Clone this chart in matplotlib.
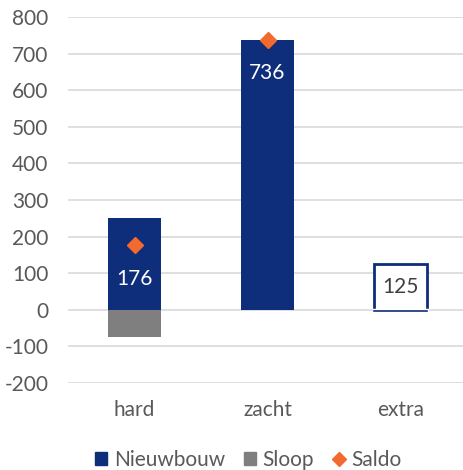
import matplotlib.pyplot as plt
from matplotlib.lines import Line2D
from matplotlib.patches import Patch

# --- data ---
categories = ['hard', 'zacht', 'extra']
nieuwbouw = [250, 736, 0]
sloop = [-75, 0, 0]
saldo = [176, 736, None]
extra_val = 125
labels = ['176', '736', '125']
label_y = [85, 648, 62]

NAVY = '#0E2D7A'
GREY = '#7F7F7F'
ORANGE = '#F26A2E'
TXT = '#595959'

plt.rcParams['font.family'] = ['Lato', 'DejaVu Sans']
plt.rcParams['axes.unicode_minus'] = False
FS = 15

fig = plt.figure(figsize=(4.64, 4.70), dpi=100)
ax = fig.add_axes([0.1466, 0.1851, 0.86, 0.7787])

x = range(len(categories))
w = 0.40
ax.bar(x, nieuwbouw, width=w, color=NAVY, zorder=3)
ax.bar(x, sloop, width=w, color=GREY, zorder=3)
# open bar for 'extra'
ax.bar(2, extra_val, width=w, facecolor='white', edgecolor=NAVY, linewidth=2, zorder=3)
ax.plot([2 - w / 2, 2 + w / 2], [0, 0], color='white', lw=2.5, zorder=4)
ax.plot([2 - w / 2, 2 + w / 2], [-3, -3], color=NAVY, lw=1.2, zorder=4)

sx = [i for i, v in enumerate(saldo) if v is not None]
sy = [v for v in saldo if v is not None]
ax.plot(sx, sy, linestyle='none', marker='D', ms=8, color=ORANGE, zorder=5)

for i, (t, yy) in enumerate(zip(labels, label_y)):
    c = 'white' if i < 2 else '#404040'
    ax.text(i, yy, t, ha='center', va='center', fontsize=FS, color=c, zorder=6)

ax.set_xlim(-0.5, 2.5)
ax.set_ylim(-200, 800)
ax.set_yticks(range(-200, 801, 100))
ax.set_xticks(list(x))
ax.set_xticklabels(categories)
ax.tick_params(length=0, labelsize=FS, colors=TXT)
ax.tick_params(axis='y', pad=14)
ax.tick_params(axis='x', pad=12)
ax.grid(axis='y', color='#D9D9D9', lw=1.2, zorder=0)
for s in ax.spines.values():
    s.set_visible(False)

handles = [Patch(color=NAVY, label='Nieuwbouw'),
           Patch(color=GREY, label='Sloop'),
           Line2D([], [], linestyle='none', marker='D', ms=7.5, color=ORANGE, label='Saldo')]
leg = fig.legend(handles=handles, loc='lower center', bbox_to_anchor=(0.535, -0.04), ncol=3,
                 frameon=False, fontsize=FS, handlelength=0.6, handleheight=0.6,
                 handletextpad=0.3, columnspacing=0.9)
for t in leg.get_texts():
    t.set_color(TXT)

fig.savefig('out.png', dpi=100)
